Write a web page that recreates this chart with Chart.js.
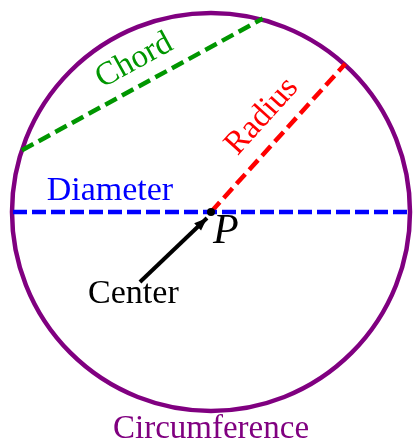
<!DOCTYPE html>
<html>
<head>
<meta charset="utf-8">
<script src="https://cdn.jsdelivr.net/npm/chart.js@4"></script>
<style>html,body{margin:0;padding:0;background:#fff;}canvas{display:block;}</style>
</head>
<body>
<canvas id="c" width="413" height="441"></canvas>
<script>
// Geometry in circle units (radius = 1, center = P at origin)
const circleCenter = {x: 0, y: 0};
const circleRadius = 1;
const diameterPts = [{x: -0.995, y: 0}, {x: 0.985, y: 0}];
const radiusPts = [{x: 0, y: 0}, {x: 0.675, y: 0.745}];
const chordPts = [{x: -0.95, y: 0.31}, {x: 0.26, y: 0.972}];
const arrowPts = [{x: -0.357, y: -0.352}, {x: -0.02, y: -0.03}];
const labelTexts = ['Chord', 'Radius', 'Diameter', 'Center', 'Circumference', 'P'];
const labelAnchors = [
  {x: -0.385, y: 0.76}, {x: 0.256, y: 0.48}, {x: -0.508, y: 0.06},
  {x: -0.39, y: -0.457}, {x: 0, y: -1.135}, {x: 0.01, y: -0.156}
];

const xRange = [-1.0603, 1.0151];
const yRange = [-1.1508, 1.0653];

const drawPlugin = {
  id: 'drawExtras',
  beforeDatasetsDraw(chart) {
    const {ctx, scales: {x, y}} = chart;
    const cx = x.getPixelForValue(circleCenter.x);
    const cy = y.getPixelForValue(circleCenter.y);
    const r = x.getPixelForValue(circleCenter.x + circleRadius) - cx;
    ctx.save();
    ctx.strokeStyle = '#800080';
    ctx.lineWidth = 4.5;
    ctx.beginPath();
    ctx.arc(cx, cy, r, 0, Math.PI * 2);
    ctx.stroke();
    ctx.restore();
  },
  afterDatasetsDraw(chart) {
    const {ctx, scales: {x, y}} = chart;
    const x1 = x.getPixelForValue(arrowPts[0].x), y1 = y.getPixelForValue(arrowPts[0].y);
    const x2 = x.getPixelForValue(arrowPts[1].x), y2 = y.getPixelForValue(arrowPts[1].y);
    const ang = Math.atan2(y2 - y1, x2 - x1);
    ctx.save();
    ctx.fillStyle = '#000';
    ctx.beginPath();
    ctx.moveTo(x2, y2);
    ctx.lineTo(x2 - 13 * Math.cos(ang) + 5 * Math.sin(ang), y2 - 13 * Math.sin(ang) - 5 * Math.cos(ang));
    ctx.lineTo(x2 - 13 * Math.cos(ang) - 5 * Math.sin(ang), y2 - 13 * Math.sin(ang) + 5 * Math.cos(ang));
    ctx.closePath();
    ctx.fill();
    ctx.beginPath();
    ctx.arc(x.getPixelForValue(0), y.getPixelForValue(0), 4, 0, Math.PI * 2);
    ctx.fill();
    ctx.restore();

    const styles = [
      {color: 'rgb(0,150,0)', font: '33px "Liberation Serif"', rot: -28.7, align: 'center', base: 'middle'},
      {color: '#ff0000', font: '33px "Liberation Serif"', rot: -47.8, align: 'center', base: 'middle'},
      {color: '#0000ff', font: '34px "Liberation Serif"', rot: 0, align: 'center', base: 'alphabetic'},
      {color: '#000000', font: '34px "Liberation Serif"', rot: 0, align: 'center', base: 'alphabetic'},
      {color: '#800080', font: '33px "Liberation Serif"', rot: 0, align: 'center', base: 'alphabetic'},
      {color: '#000000', font: 'italic 42px "Liberation Serif"', rot: 0, align: 'left', base: 'alphabetic'}
    ];
    labelTexts.forEach((t, i) => {
      const s = styles[i];
      const px = x.getPixelForValue(labelAnchors[i].x);
      const py = y.getPixelForValue(labelAnchors[i].y);
      ctx.save();
      ctx.translate(px, py);
      ctx.rotate(s.rot * Math.PI / 180);
      ctx.fillStyle = s.color;
      ctx.font = s.font;
      ctx.textAlign = s.align;
      ctx.textBaseline = s.base;
      ctx.fillText(t, 0, 0);
      ctx.restore();
    });
  }
};

const lineDs = (data, color, dash, width) => ({
  data, showLine: true, borderColor: color, borderWidth: width,
  borderDash: dash, pointRadius: 0, fill: false, tension: 0
});

new Chart(document.getElementById('c'), {
  type: 'scatter',
  data: {
    datasets: [
      lineDs(chordPts, 'rgb(0,150,0)', [13, 6], 4.5),
      lineDs(diameterPts, '#0000ff', [14, 5], 4.5),
      lineDs(radiusPts, '#ff0000', [13, 6], 4.5),
      lineDs(arrowPts, '#000000', [], 4)
    ]
  },
  options: {
    responsive: false,
    animation: false,
    devicePixelRatio: 1,
    layout: {padding: 0},
    plugins: {legend: {display: false}, tooltip: {enabled: false}},
    scales: {
      x: {type: 'linear', display: false, min: xRange[0], max: xRange[1]},
      y: {type: 'linear', display: false, min: yRange[0], max: yRange[1]}
    }
  },
  plugins: [drawPlugin]
});
</script>
</body>
</html>
